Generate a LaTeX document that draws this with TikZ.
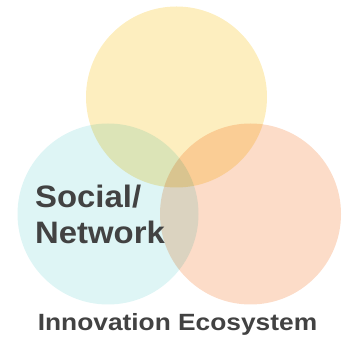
\documentclass[tikz,border=0pt]{standalone}
\usepackage{fontspec}
\setmainfont{Liberation Sans}
\begin{document}
\begin{tikzpicture}[x=1pt,y=1pt,
  venn/.style={circle,minimum size=181pt,inner sep=0pt,draw=none,blend mode=multiply},
  lbl/.style={font=\bfseries\fontsize{31}{36}\selectfont,text=txtgray,inner sep=0pt,xscale=1.06},
  captext/.style={font=\bfseries\fontsize{23.5}{28}\selectfont,text=txtgray,inner sep=0pt,xscale=1.12}]
\definecolor{cyellow}{HTML}{FDEEBF}
\definecolor{ccyan}{HTML}{DEF5F5}
\definecolor{cpeach}{HTML}{FCDCC8}
\definecolor{txtgray}{HTML}{424242}
\useasboundingbox (0,0) rectangle (358,342);
\begin{scope}[transparency group]
\node[venn,fill=cyellow] (top) at (176.5,245) {};
\node[venn,fill=ccyan] (left) at (108,128) {};
\node[venn,fill=cpeach] (right) at (250.5,128) {};
\end{scope}
\node[lbl,anchor=base west] (social) at (35,134) {Social/};
\node[lbl,anchor=base west] (network) at (35,98) {Network};
\node[captext,anchor=base] (eco) at (177.5,12) {Innovation Ecosystem};
\end{tikzpicture}
\end{document}
